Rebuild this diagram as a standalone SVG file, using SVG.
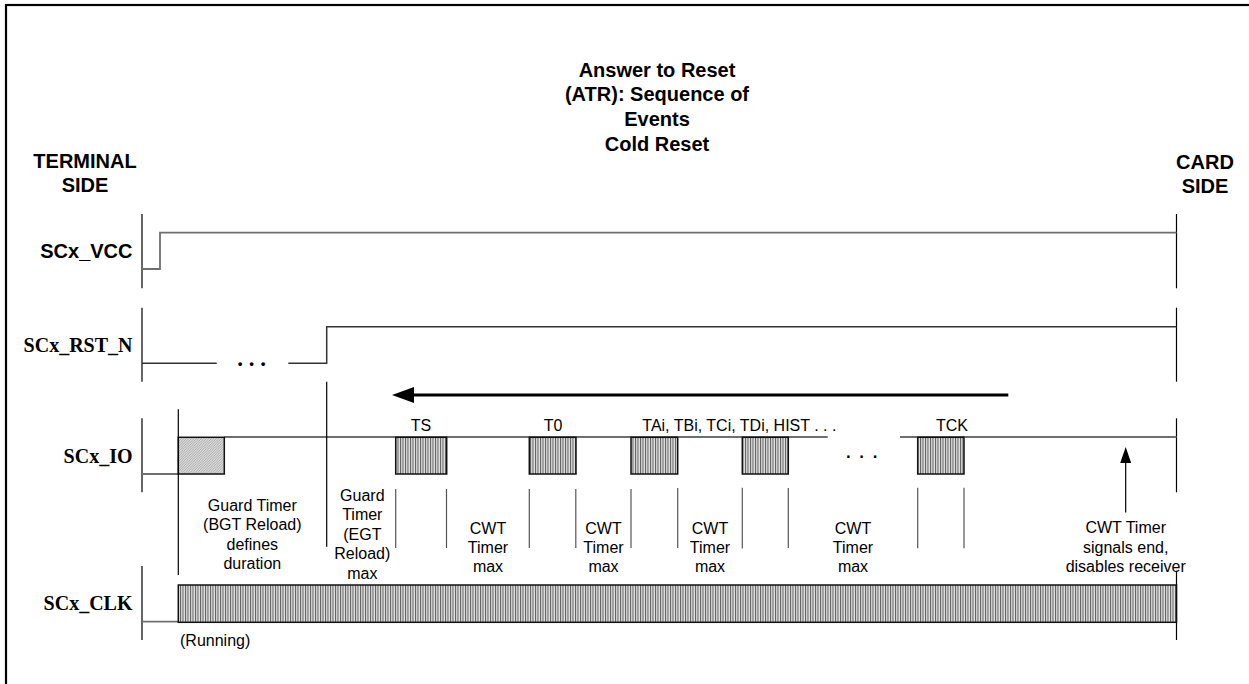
<svg xmlns="http://www.w3.org/2000/svg" width="1249" height="684" viewBox="0 0 1249 684">
<style>
.title{font-family:"Liberation Sans",Arial,sans-serif;font-weight:bold;font-size:20px;fill:#000;text-anchor:middle}
.side{font-family:"Liberation Sans",Arial,sans-serif;font-weight:bold;font-size:20px;fill:#000;text-anchor:middle}
.sigs{font-family:"Liberation Sans",Arial,sans-serif;font-weight:bold;font-size:20px;fill:#000;text-anchor:end}
.sig{font-family:"Liberation Serif","Times New Roman",serif;font-weight:bold;font-size:20px;fill:#000;text-anchor:end}
.lbl{font-family:"Liberation Sans",Arial,sans-serif;font-size:16px;fill:#000;text-anchor:middle}
.lbls{font-family:"Liberation Sans",Arial,sans-serif;font-size:16px;fill:#000}
.mark{stroke:#000;stroke-width:1.2;fill:none}
.tick{stroke:#555;stroke-width:1.2;fill:none}
.trace{stroke:#6e6e6e;stroke-width:1.8;fill:none}
.rst{stroke:#333;stroke-width:1.5;fill:none}
.box{fill:url(#vh);stroke:#111;stroke-width:1.5}
</style>
<defs>
<pattern id="vh" width="2.5" height="10" patternUnits="userSpaceOnUse">
<rect width="2.5" height="10" fill="#e2e2e2"/>
<rect width="1" height="10" fill="#5a5a5a"/>
</pattern>
<pattern id="dh" width="2.5" height="2.5" patternUnits="userSpaceOnUse">
<rect width="2.5" height="2.5" fill="#dcdcdc"/>
<path d="M0,2.5 L2.5,0" stroke="#8a8a8a" stroke-width="0.6"/>
</pattern>
<marker id="ah" markerWidth="22" markerHeight="16" refX="2" refY="8" orient="auto" markerUnits="userSpaceOnUse">
<path d="M0,0 L22,8 L0,16 z" fill="#000"/>
</marker>
<marker id="ahs" markerWidth="16" markerHeight="11" refX="1" refY="5.5" orient="auto" markerUnits="userSpaceOnUse">
<path d="M0,0 L16,5.5 L0,11 z" fill="#000"/>
</marker>
</defs>
<rect width="1249" height="684" fill="#fff"/>
<rect id="frame" x="6" y="5" width="1300" height="720" fill="none" stroke="#000" stroke-width="2.2"/>

<g id="title">
<text class="title" x="657" y="76.5">Answer to Reset</text>
<text class="title" x="657" y="101.2">(ATR): Sequence of</text>
<text class="title" x="657" y="125.9">Events</text>
<text class="title" x="657" y="150.6">Cold Reset</text>
</g>
<g id="terminal-side">
<text class="side" x="85" y="168.3">TERMINAL</text>
<text class="side" x="85" y="192">SIDE</text>
</g>
<g id="card-side">
<text class="side" x="1205" y="168.8">CARD</text>
<text class="side" x="1205" y="192.8">SIDE</text>
</g>

<g id="vcc">
<text class="sigs" x="132.5" y="258.3">SCx_VCC</text>
<line class="mark" x1="142" y1="214" x2="142" y2="288.3"/>
<line class="mark" x1="1176.5" y1="214" x2="1176.5" y2="288.3"/>
<path class="trace" d="M142,269 H160 V232.7 H1176.5"/>
</g>

<g id="rst">
<text class="sig" x="132.5" y="351.7">SCx_RST_N</text>
<line class="mark" x1="142" y1="307.7" x2="142" y2="381.7"/>
<line class="mark" x1="1176.5" y1="307.7" x2="1176.5" y2="381.7"/>
<path class="rst" d="M142,363.3 H216.7"/>
<path class="rst" d="M288.3,363.3 H326.7 V326.7 H1176.5"/>
<text x="251.7" y="366" style="font-family:'Liberation Serif',serif;font-weight:bold;font-size:23px;text-anchor:middle">. . .</text>
</g>

<g id="io">
<text class="sig" x="132.5" y="462.7">SCx_IO</text>
<line class="mark" x1="142" y1="418.3" x2="142" y2="492.3"/>
<line class="mark" x1="1176.5" y1="418.3" x2="1176.5" y2="492.3"/>
<path class="trace" d="M142,474 H178.3"/>
<path class="trace" d="M224.3,437 H827.7"/>
<path class="trace" d="M900,437 H1176.5"/>
<rect x="178.3" y="437.3" width="46" height="36.7" fill="url(#dh)" stroke="#111" stroke-width="1.5"/>
<text x="861.7" y="457.5" style="font-family:'Liberation Sans',Arial,sans-serif;font-size:24px;text-anchor:middle">. . .</text>
</g>

<g id="ts">
<rect class="box" x="395.7" y="437.3" width="51" height="36.7"/>
<text class="lbl" x="421" y="431">TS</text>
</g>
<g id="t0">
<rect class="box" x="529.3" y="437.3" width="46.7" height="36.7"/>
<text class="lbl" x="553" y="431">T0</text>
</g>
<g id="tai">
<rect class="box" x="631" y="437.3" width="46.7" height="36.7"/>
<rect class="box" x="742.3" y="437.3" width="46" height="36.7"/>
<text class="lbls" x="642.3" y="431">TAi, TBi, TCi, TDi, HIST . . .</text>
</g>
<g id="tck">
<rect class="box" x="917.7" y="437.3" width="46.3" height="36.7"/>
<text class="lbl" x="952" y="431">TCK</text>
</g>

<g id="clk">
<text class="sig" x="132.5" y="610">SCx_CLK</text>
<line class="mark" x1="142" y1="566" x2="142" y2="640"/>
<line class="mark" x1="1176.5" y1="570.7" x2="1176.5" y2="640"/>
<path class="trace" d="M142,621.7 H178.3"/>
<rect class="box" x="178.3" y="585" width="998.2" height="37.3"/>
<text class="lbls" x="180" y="645.7">(Running)</text>
</g>

<g id="guard-bgt">
<text class="lbl" x="252.3" y="511">Guard Timer</text>
<text class="lbl" x="252.3" y="530.3">(BGT Reload)</text>
<text class="lbl" x="252.3" y="549.6">defines</text>
<text class="lbl" x="252.3" y="568.9">duration</text>
</g>
<g id="guard-egt">
<text class="lbl" x="362.3" y="500.5">Guard</text>
<text class="lbl" x="362.3" y="520">Timer</text>
<text class="lbl" x="362.3" y="539.5">(EGT</text>
<text class="lbl" x="362.3" y="559">Reload)</text>
<text class="lbl" x="362.3" y="578.5">max</text>
</g>
<g id="cwt1">
<text class="lbl" x="488" y="534.3">CWT</text>
<text class="lbl" x="488" y="553.3">Timer</text>
<text class="lbl" x="488" y="572.3">max</text>
</g>
<g id="cwt2">
<text class="lbl" x="603.5" y="534.3">CWT</text>
<text class="lbl" x="603.5" y="553.3">Timer</text>
<text class="lbl" x="603.5" y="572.3">max</text>
</g>
<g id="cwt3">
<text class="lbl" x="710" y="534.3">CWT</text>
<text class="lbl" x="710" y="553.3">Timer</text>
<text class="lbl" x="710" y="572.3">max</text>
</g>
<g id="cwt4">
<text class="lbl" x="853" y="534.3">CWT</text>
<text class="lbl" x="853" y="553.3">Timer</text>
<text class="lbl" x="853" y="572.3">max</text>
</g>
<g id="cwt-end">
<text class="lbl" x="1125.7" y="533.3">CWT Timer</text>
<text class="lbl" x="1125.7" y="552.6">signals end,</text>
<text class="lbl" x="1125.7" y="571.9">disables receiver</text>
</g>

<g id="connectors">
<line class="mark" x1="178.3" y1="409.3" x2="178.3" y2="575"/>
<line class="mark" x1="326.7" y1="381.7" x2="326.7" y2="546.7"/>
<line class="tick" x1="395.7" y1="489" x2="395.7" y2="548"/>
<line class="tick" x1="446.5" y1="489" x2="446.5" y2="548"/>
<line class="tick" x1="529.3" y1="489" x2="529.3" y2="548"/>
<line class="tick" x1="575.8" y1="489" x2="575.8" y2="548"/>
<line class="tick" x1="631" y1="489" x2="631" y2="548"/>
<line class="tick" x1="677.7" y1="488" x2="677.7" y2="548"/>
<line class="tick" x1="742.3" y1="487.7" x2="742.3" y2="548.5"/>
<line class="tick" x1="788.3" y1="488" x2="788.3" y2="548"/>
<line class="tick" x1="917.7" y1="487.7" x2="917.7" y2="548.3"/>
<line class="tick" x1="964" y1="487.7" x2="964" y2="548.3"/>
<line x1="1008.3" y1="395" x2="412" y2="395" stroke="#000" stroke-width="3" marker-end="url(#ah)"/>
<line x1="1125.7" y1="512.5" x2="1125.7" y2="462" stroke="#000" stroke-width="1.2" marker-end="url(#ahs)"/>
</g>
</svg>
